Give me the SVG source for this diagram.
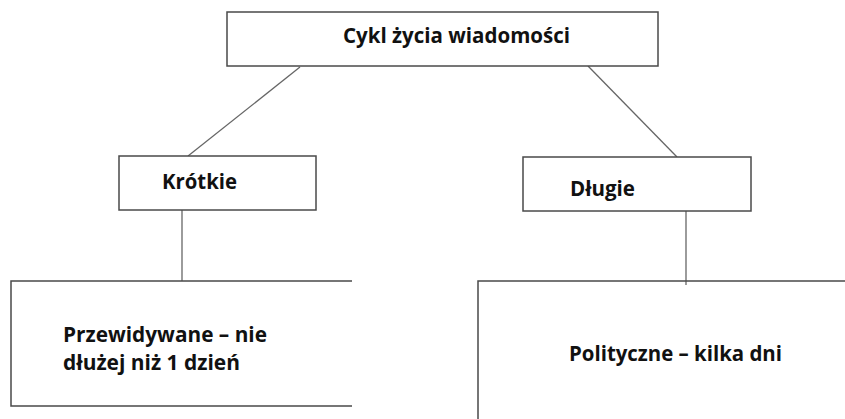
<svg xmlns="http://www.w3.org/2000/svg" width="845" height="419" viewBox="0 0 845 419">
<style>
.box{fill:#fff;stroke:#4a4a4a;stroke-width:1.5}
.edge{fill:none;stroke:#4a4a4a;stroke-width:1.5}
.conn{stroke:#666;stroke-width:1.3;fill:none}
.t{font-family:"Open Sans","Liberation Sans",sans-serif;font-weight:bold;font-size:22px;fill:#111}
</style>
<rect width="845" height="419" fill="#fff"/>
<g id="connectors">
<line class="conn" x1="300" y1="67" x2="188" y2="156"/>
<line class="conn" x1="588" y1="66" x2="677" y2="157"/>
<line class="conn" x1="182" y1="210" x2="182" y2="281"/>
<line class="conn" x1="686" y1="211" x2="686" y2="285"/>
</g>
<g id="node-root">
<rect class="box" x="227" y="12" width="431" height="54"/>
<text class="t" x="343" y="43" textLength="227" lengthAdjust="spacingAndGlyphs">Cykl życia wiadomości</text>
</g>
<g id="node-short">
<rect class="box" x="119" y="156" width="197" height="54"/>
<text class="t" x="162" y="189" textLength="75" lengthAdjust="spacingAndGlyphs">Krótkie</text>
</g>
<g id="node-long">
<rect class="box" x="523" y="157" width="228" height="54"/>
<text class="t" x="570" y="196" textLength="65" lengthAdjust="spacingAndGlyphs">Długie</text>
</g>
<g id="node-predicted">
<path class="edge" d="M352 281 H11 V406 H352"/>
<text class="t" x="63" y="342" textLength="204" lengthAdjust="spacingAndGlyphs">Przewidywane – nie</text>
<text class="t" x="63" y="370" textLength="177" lengthAdjust="spacingAndGlyphs">dłużej niż 1 dzień</text>
</g>
<g id="node-political">
<path class="edge" d="M845 281 H478 V419"/>
<text class="t" x="569" y="361" textLength="213" lengthAdjust="spacingAndGlyphs">Polityczne – kilka dni</text>
</g>
</svg>
